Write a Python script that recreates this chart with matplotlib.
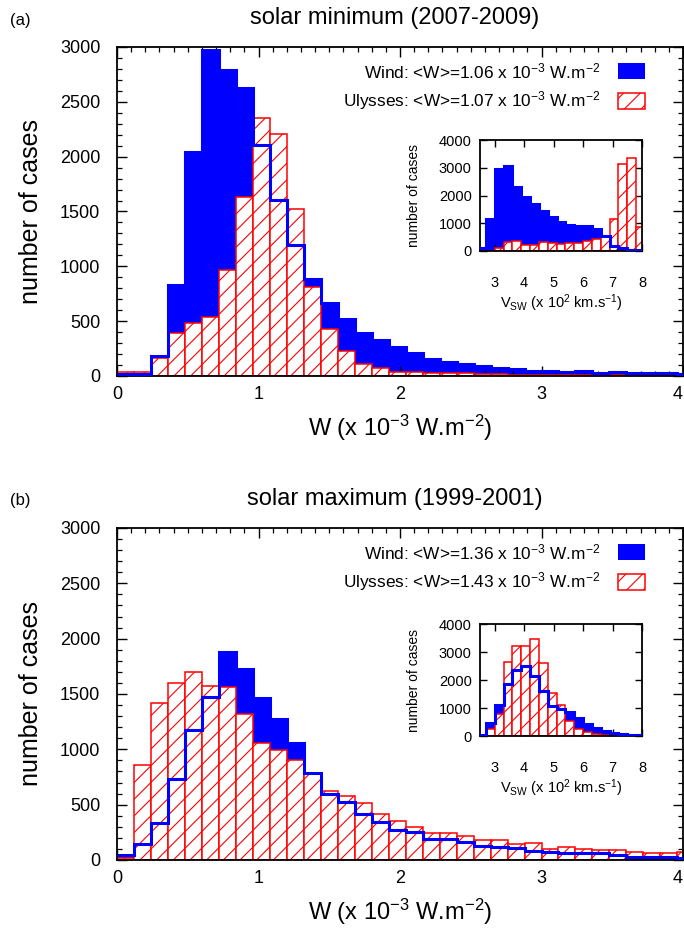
import numpy as np
import matplotlib.pyplot as plt
from matplotlib.patches import Rectangle

plt.rcParams['font.family'] = ['Liberation Sans', 'DejaVu Sans']
plt.rcParams['mathtext.fontset'] = 'custom'
plt.rcParams['mathtext.rm'] = 'Liberation Sans'
plt.rcParams['mathtext.it'] = 'Liberation Sans:italic'
plt.rcParams['hatch.linewidth'] = 0.8

# W histograms: bins of 0.12 x 10^-3 W.m^-2 starting at 0
w_width = 0.12
w_edges = np.arange(35) * w_width

# (a) solar minimum 2007-2009
wind_min = [18, 18, 183, 833, 2045, 2976, 2792, 2628, 2109, 1602, 1193, 885, 665, 522,
            391, 324, 262, 213, 152, 131, 106, 94, 70, 65, 49, 49, 33, 43, 30, 33, 24, 24, 24, 18]
uly_min = [40, 40, 160, 388, 482, 540, 967, 1636, 2353, 2204, 1526, 812, 430, 229,
           107, 70, 37, 37, 24, 24, 24, 15, 15, 10, 10, 8, 8, 6, 6, 5, 5, 5, 5, 5]

# (b) solar maximum 1999-2001
wind_max = [45, 148, 338, 731, 1178, 1477, 1879, 1722, 1462, 1275, 1054, 785, 595, 520,
            414, 347, 270, 250, 190, 190, 166, 130, 115, 105, 84, 75, 66, 60, 60, 45, 24, 30, 30, 21]
uly_max = [21, 858, 1417, 1601, 1698, 1568, 1562, 1320, 1054, 997, 906, 785, 625, 580,
           511, 414, 350, 295, 247, 241, 220, 181, 181, 142, 151, 99, 120, 99, 90, 90, 75, 66, 66, 75]

# solar wind speed histograms (x 10^2 km/s), bins of 0.3
v_edges = 2.4 + np.arange(20) * 0.3
v_wind_min = [96, 1140, 2970, 3070, 2320, 1950, 1680, 1440, 1230, 1030, 950, 890, 910,
              780, 530, 180, 96, 48, 24]
v_uly_min = [0, 0, 96, 336, 360, 216, 216, 312, 276, 240, 300, 300, 372, 420, 516,
             1153, 3123, 3339, 877]
v_wind_max = [40, 450, 1120, 1850, 2370, 2490, 2160, 1620, 1080, 970, 870, 630, 420,
              270, 180, 120, 80, 50, 25]
v_uly_max = [0, 265, 800, 2660, 3230, 3230, 3460, 2600, 1550, 1100, 540, 250, 140, 80,
             40, 25, 10, 5, 5]

panels = [
    ('(a)', 'solar minimum (2007-2009)', wind_min, uly_min, v_wind_min, v_uly_min, '1.06', '1.07'),
    ('(b)', 'solar maximum (1999-2001)', wind_max, uly_max, v_wind_max, v_uly_max, '1.36', '1.43'),
]

W, H = 684, 943
fig = plt.figure(figsize=(W / 100, H / 100), dpi=100)


def px(x0, y0, x1, y1):
    # pixel box -> figure fraction rect
    return [x0 / W, 1 - y1 / H, (x1 - x0) / W, (y1 - y0) / H]


def draw_hist(ax, edges, wind, uly, lw):
    width = edges[1] - edges[0]
    ax.bar(edges[:-1], wind, width=width, align='edge', color='#0000ff', linewidth=0, zorder=1)
    ax.bar(edges[:-1], uly, width=width, align='edge', facecolor='white', edgecolor='#ff0000',
           hatch='//', linewidth=1.1, zorder=2)
    ax.stairs(wind, edges, color='#0000ff', linewidth=lw, baseline=None, zorder=3)


main_boxes = [(117, 47, 683, 376), (117, 528, 683, 860)]
inset_boxes = [(480, 140, 642, 251), (480, 624, 642, 736)]

for i, (tag, title, wind, uly, vw, vu, mw, mu) in enumerate(panels):
    x0, y0, x1, y1 = main_boxes[i]
    ax = fig.add_axes(px(*main_boxes[i]))
    draw_hist(ax, w_edges, wind, uly, 2.2)
    ax.set_xlim(0, 4)
    ax.set_ylim(0, 3000)
    ax.set_xticks([0, 1, 2, 3, 4])
    ax.set_xticks(np.arange(0, 4.01, 0.1), minor=True)
    ax.set_yticks(np.arange(0, 3001, 500))
    ax.set_yticks(np.arange(0, 3001, 100), minor=True)
    ax.tick_params(which='both', direction='in', top=True, right=True, labelsize=13)
    ax.tick_params(which='major', length=7, width=1.0)
    ax.tick_params(which='minor', length=3.5, width=0.9)
    ax.tick_params(axis='y', pad=12)
    ax.tick_params(axis='x', pad=7)
    ax.get_xticklabels()[-1].set_horizontalalignment('right')
    for s in ax.spines.values():
        s.set_linewidth(1.3)
    ax.set_xlabel(r'W (x 10$^{-3}$ W.m$^{-2}$)', fontsize=17, labelpad=7)
    ax.set_ylabel('number of cases', fontsize=18, labelpad=12)

    fig.text(10 / W, 1 - (y0 - 27) / H, tag, fontsize=12, va='center', ha='left')
    fig.text(395 / W, 1 - (y0 - 29) / H, title, fontsize=17, va='center', ha='center')

    # legend (text right-aligned, key box on the right, gnuplot style)
    axw, axh = x1 - x0, y1 - y0
    labels = [r'Wind: <W>=%s x 10$^{-3}$ W.m$^{-2}$' % mw,
              r'Ulysses: <W>=%s x 10$^{-3}$ W.m$^{-2}$' % mu]
    for k, lab in enumerate(labels):
        yc = (y0 + 24 + 30 * k)
        ax.text((600 - x0) / axw, (y1 - yc) / axh, lab, transform=ax.transAxes,
                ha='right', va='center', fontsize=12.4)
        rect_kw = dict(facecolor='#0000ff', edgecolor='#0000ff', linewidth=0) if k == 0 else \
            dict(facecolor='white', edgecolor='#ff0000', hatch='//', linewidth=1.1)
        ax.add_patch(Rectangle(((618 - x0) / axw, (y1 - yc - 8) / axh), 27 / axw, 16 / axh,
                               transform=ax.transAxes, clip_on=False, **rect_kw))

    # inset: solar wind speed distribution
    ins = fig.add_axes(px(*inset_boxes[i]))
    draw_hist(ins, v_edges, vw, vu, 2.2)
    ins.set_xlim(2.5, 8.0)
    ins.set_ylim(0, 4000)
    ins.set_xticks([3, 4, 5, 6, 7, 8])
    ins.set_yticks([0, 1000, 2000, 3000, 4000])
    ins.tick_params(direction='in', top=True, right=True, length=5, width=1.0, labelsize=10.5)
    ins.tick_params(axis='x', pad=18)
    ins.tick_params(axis='y', pad=6)
    for s in ins.spines.values():
        s.set_linewidth(1.3)
    ins.set_xlabel(r'V$_{\mathrm{SW}}$ (x 10$^2$ km.s$^{-1}$)', fontsize=10.5, labelpad=2)
    ins.set_ylabel('number of cases', fontsize=10, labelpad=13)

plt.savefig('out.png', dpi=100)
